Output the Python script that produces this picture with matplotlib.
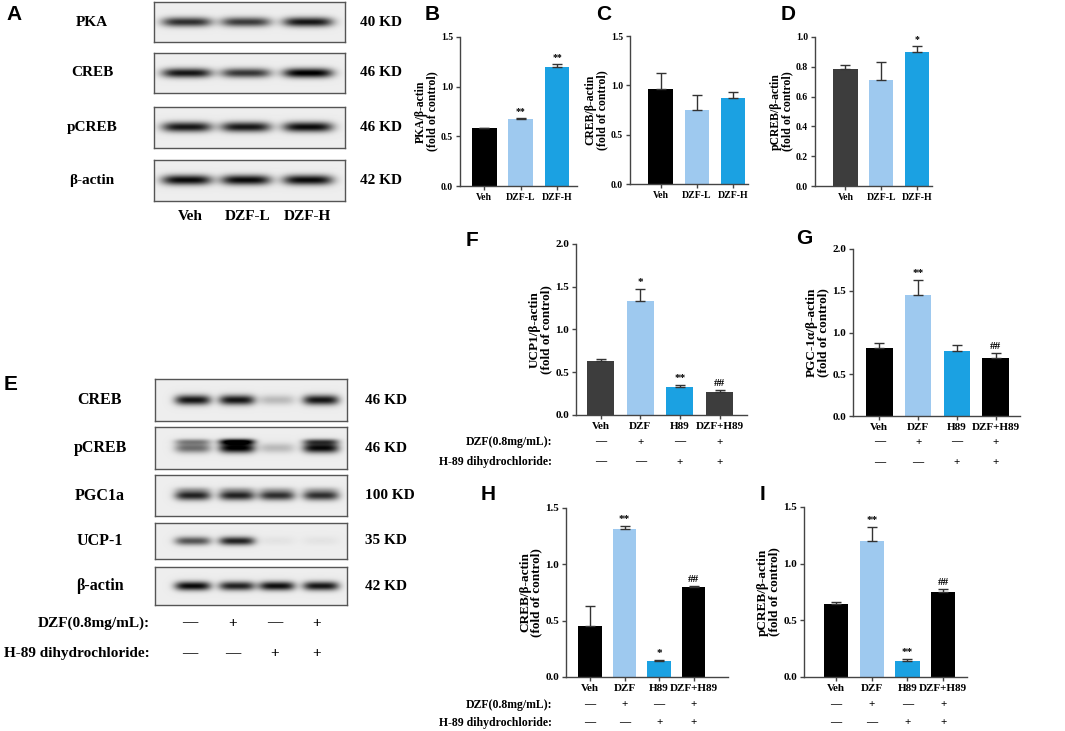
import numpy as np
import matplotlib
matplotlib.use("Agg")
import matplotlib.pyplot as plt

plt.rcParams['font.family'] = ['Liberation Serif', 'DejaVu Serif']
plt.rcParams['font.weight'] = 'bold'

W, H = 1065, 731
BLACK = '#000000'
DGRAY = '#3d3d3d'
LBLUE = '#9ec9ef'
BLUE = '#1ba1e2'

# ------------ data ---------------
cat3 = ['Veh', 'DZF-L', 'DZF-H']
cat4 = ['Veh', 'DZF', 'H89', 'DZF+H89']
dzf_signs = ['—', '+', '—', '+']
h89_signs = ['—', '—', '+', '+']

pka_mean = [0.58, 0.67, 1.20]
pka_err = [0.006, 0.012, 0.03]
pka_sig = ['', '**', '**']

creb3_mean = [0.96, 0.75, 0.87]
creb3_err = [0.16, 0.15, 0.06]
creb3_sig = ['', '', '']

pcreb3_mean = [0.785, 0.71, 0.90]
pcreb3_err = [0.03, 0.125, 0.04]
pcreb3_sig = ['', '', '*']

ucp1_mean = [0.63, 1.33, 0.33, 0.27]
ucp1_err = [0.02, 0.14, 0.025, 0.02]
ucp1_sig = ['', '*', '**', '##']

pgc_mean = [0.82, 1.45, 0.78, 0.70]
pgc_err = [0.05, 0.18, 0.07, 0.05]
pgc_sig = ['', '**', '', '##']

creb4_mean = [0.45, 1.31, 0.14, 0.80]
creb4_err = [0.18, 0.03, 0.01, 0.01]
creb4_sig = ['', '**', '*', '##']

pcreb4_mean = [0.64, 1.20, 0.14, 0.75]
pcreb4_err = [0.02, 0.12, 0.015, 0.03]
pcreb4_sig = ['', '**', '**', '##']

# blot band darkness per lane
blotA_names = ['PKA', 'CREB', 'pCREB', 'β-actin']
blotA_kd = ['40 KD', '46 KD', '46 KD', '42 KD']
blotA_bands = [[0.75, 0.70, 0.85], [0.85, 0.72, 0.95],
               [0.85, 0.85, 0.90], [0.90, 0.90, 0.90]]
blotE_names = ['CREB', 'pCREB', 'PGC1a', 'UCP-1', 'β-actin']
blotE_kd = ['46 KD', '46 KD', '100 KD', '35 KD', '42 KD']
blotE_bands = [[0.85, 0.85, 0.20, 0.85], [0.50, 0.95, 0.20, 0.90],
               [0.80, 0.80, 0.75, 0.75], [0.60, 0.80, 0.04, 0.04],
               [0.90, 0.80, 0.88, 0.85]]
blotE_upper = [[0, 0, 0, 0], [0.35, 0.90, 0.0, 0.55],
               [0.15, 0.15, 0.12, 0.12], [0, 0, 0, 0], [0, 0, 0, 0]]

fig = plt.figure(figsize=(W / 100, H / 100), dpi=100)


def add_ax(x0, y0, x1, y1):
    return fig.add_axes([x0 / W, 1 - y1 / H, (x1 - x0) / W, (y1 - y0) / H])


def ftext(x, y, s, **kw):
    return fig.text(x / W, 1 - y / H, s, **kw)


def letter(x, y, s):
    ftext(x, y, s, family='Liberation Sans', fontsize=15, weight='bold',
          ha='left', va='center')


def blot(box, lanes, halfw, dark, upper=None):
    x0, y0, x1, y1 = box
    w, h = x1 - x0, y1 - y0
    ax = add_ax(x0, y0, x1, y1)
    xx, yy = np.meshgrid(np.arange(w) + 0.5, np.arange(h) + 0.5)
    img = np.full((h, w), 0.93)
    for cx, d in zip(lanes, dark):
        img -= d * np.exp(-((xx - cx) / halfw) ** 4) * np.exp(-((yy - h * 0.5) / (h * 0.12)) ** 2)
    if upper is not None:
        for cx, d in zip(lanes, upper):
            img -= d * np.exp(-((xx - cx) / halfw) ** 4) * np.exp(-((yy - h * 0.35) / (h * 0.07)) ** 2)
    ax.imshow(np.clip(img, 0, 1), cmap='gray', vmin=0, vmax=1, aspect='auto',
              extent=(0, w, h, 0), interpolation='bilinear')
    ax.set_xticks([])
    ax.set_yticks([])
    for sp in ax.spines.values():
        sp.set_color('#555555')
        sp.set_linewidth(1.0)
    return ax


def bars(px, xlim, top, step, cats, mean, err, sig, colors, fs_tick, fs_cat, fs_lab, ylabel):
    x0, y0, x1, y1 = px
    ax = add_ax(x0, y0, x1, y1)
    x = np.arange(len(cats))
    ax.bar(x, mean, width=0.68, color=colors, zorder=2)
    ax.errorbar(x, mean, yerr=[np.zeros(len(err)), err], fmt='none', ecolor='#333333',
                elinewidth=1.0, capsize=3.5, capthick=1.0, zorder=3)
    for xi, m, e, s in zip(x, mean, err, sig):
        if s:
            ax.text(xi, m + e + top * 0.012, s, ha='center', va='bottom',
                    fontsize=fs_tick, weight='bold')
    ax.set_xlim(*xlim)
    ax.set_ylim(0, top)
    ticks = np.arange(0, top + 1e-9, step)
    ax.set_yticks(ticks)
    ax.set_yticklabels(['%.1f' % v for v in ticks])
    ax.set_xticks(x)
    ax.set_xticklabels(cats, fontsize=fs_cat)
    ax.tick_params(axis='y', labelsize=fs_tick)
    ax.tick_params(axis='both', width=1.0, length=3, pad=2, color='#444444')
    for sp in ['top', 'right']:
        ax.spines[sp].set_visible(False)
    for sp in ['left', 'bottom']:
        ax.spines[sp].set_color('#444444')
        ax.spines[sp].set_linewidth(1.0)
    ax.set_ylabel(ylabel, fontsize=fs_lab, weight='bold', linespacing=0.95, labelpad=2)
    return ax


def sign_rows(ax, ys, fs):
    for row, y in zip([dzf_signs, h89_signs], ys):
        for i, s in enumerate(row):
            xd = ax.transData.transform((i, 0))[0]
            ftext(xd, y, s, ha='center', va='center', fontsize=fs, weight='bold')


# ------------ Panel A ---------------
letter(6, 14, 'A')
rowsA = [(154, 2, 345, 42), (154, 53, 345, 93), (154, 107, 345, 148), (154, 160, 345, 201)]
for box, name, kd, d in zip(rowsA, blotA_names, blotA_kd, blotA_bands):
    blot(box, [33, 92, 154], 25, d)
    yc = (box[1] + box[3]) / 2
    ftext(92, yc, name, ha='center', va='center', fontsize=11, weight='bold')
    ftext(360, yc, kd, ha='left', va='center', fontsize=11, weight='bold')
for xc, c in zip([190, 248, 307], cat3):
    ftext(xc, 216, c, ha='center', va='center', fontsize=11, weight='bold')

# ------------ Panel E ---------------
letter(4, 385, 'E')
rowsE = [(155, 379, 347, 421), (155, 427, 347, 469), (155, 475, 347, 516),
         (155, 523, 347, 559), (155, 567, 347, 605)]
for box, name, kd, d, up in zip(rowsE, blotE_names, blotE_kd, blotE_bands, blotE_upper):
    blot(box, [38, 82, 122, 166], 18, d, up)
    yc = (box[1] + box[3]) / 2
    ftext(100, yc, name, ha='center', va='center', fontsize=11.5, weight='bold')
    ftext(365, yc, kd, ha='left', va='center', fontsize=11, weight='bold')
ftext(150, 623, 'DZF(0.8mg/mL):', ha='right', va='center', fontsize=11, weight='bold')
ftext(150, 654, 'H-89 dihydrochloride:', ha='right', va='center', fontsize=11, weight='bold')
for xc, a, b in zip([190, 233, 275, 317], dzf_signs, h89_signs):
    ftext(xc, 623, a, ha='center', va='center', fontsize=11, weight='bold')
    ftext(xc, 654, b, ha='center', va='center', fontsize=11, weight='bold')

# ------------ Panels B, C, D ---------------
letter(425, 14, 'B')
bars((460, 37, 577, 186), (-0.67, 2.55), 1.5, 0.5, cat3, pka_mean, pka_err, pka_sig,
     [BLACK, LBLUE, BLUE], 7, 7, 8.5, 'PKA/β-actin\n(fold of control)')
letter(596, 14, 'C')
bars((630, 36, 748, 184), (-0.85, 2.41), 1.5, 0.5, cat3, creb3_mean, creb3_err, creb3_sig,
     [BLACK, LBLUE, BLUE], 7, 7, 8.5, 'CREB/β-actin\n(fold of control)')
letter(781, 14, 'D')
bars((815, 37, 932, 186), (-0.85, 2.42), 1.0, 0.2, cat3, pcreb3_mean, pcreb3_err, pcreb3_sig,
     [DGRAY, LBLUE, BLUE], 7, 7, 8.5, 'pCREB/β-actin\n(fold of control)')

# ------------ Panels F, G, H, I ---------------
letter(466, 240, 'F')
axF = bars((576, 244, 747, 415), (-0.62, 3.69), 2.0, 0.5, cat4, ucp1_mean, ucp1_err, ucp1_sig,
           [DGRAY, LBLUE, BLUE, DGRAY], 8, 8, 9.5, 'UCP1/β-actin\n(fold of control)')
sign_rows(axF, [442, 462], 8)
ftext(552, 442, 'DZF(0.8mg/mL):', ha='right', va='center', fontsize=8.5, weight='bold')
ftext(552, 462, 'H-89 dihydrochloride:', ha='right', va='center', fontsize=8.5, weight='bold')

letter(796, 238, 'G')
axG = bars((853, 249, 1020, 416), (-0.68, 3.63), 2.0, 0.5, cat4, pgc_mean, pgc_err, pgc_sig,
           [BLACK, LBLUE, BLUE, BLACK], 8, 8, 9.5, 'PGC-1α/β-actin\n(fold of control)')
sign_rows(axG, [442, 463], 8)

letter(481, 495, 'H')
axH = bars((566, 508, 728, 677), (-0.7, 4.0), 1.5, 0.5, cat4, creb4_mean, creb4_err, creb4_sig,
           [BLACK, LBLUE, BLUE, BLACK], 8, 8, 9.5, 'CREB/β-actin\n(fold of control)')
sign_rows(axH, [705, 723], 8)
ftext(552, 705, 'DZF(0.8mg/mL):', ha='right', va='center', fontsize=8.5, weight='bold')
ftext(552, 723, 'H-89 dihydrochloride:', ha='right', va='center', fontsize=8.5, weight='bold')

letter(760, 495, 'I')
axI = bars((804, 507, 967, 677), (-0.9, 3.67), 1.5, 0.5, cat4, pcreb4_mean, pcreb4_err, pcreb4_sig,
           [BLACK, LBLUE, BLUE, BLACK], 8, 8, 9.5, 'pCREB/β-actin\n(fold of control)')
sign_rows(axI, [705, 723], 8)

fig.savefig('out.png', dpi=100)
